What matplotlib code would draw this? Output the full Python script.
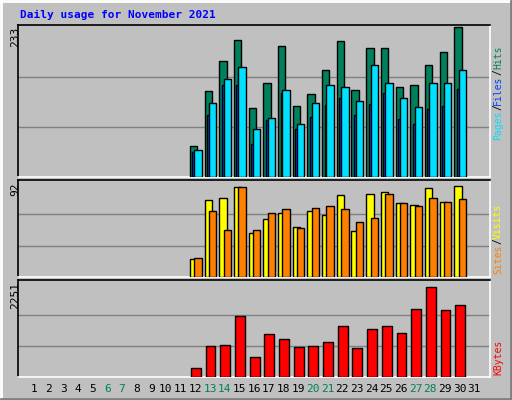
import numpy as np
import matplotlib.pyplot as plt

days = list(range(1, 32))
active = list(range(12, 31))
hits = [48, 133, 180, 212, 107, 146, 203, 110, 128, 166, 211, 134, 199, 199, 139, 142, 174, 193, 233]
files = [39, 96, 143, 143, 51, 88, 130, 74, 93, 111, 123, 96, 113, 130, 90, 82, 105, 110, 137]
pages = [42, 114, 151, 171, 74, 91, 134, 82, 114, 142, 140, 117, 174, 146, 122, 108, 145, 146, 166]
visits = [18, 75, 77, 88, 43, 57, 63, 49, 64, 61, 80, 45, 81, 83, 72, 70, 87, 73, 89]
sites = [19, 64, 46, 88, 46, 63, 66, 48, 67, 69, 66, 54, 58, 81, 72, 69, 77, 73, 76]
kbytes = [221, 742, 766, 1477, 482, 1027, 908, 719, 742, 837, 1240, 695, 1169, 1240, 1051, 1643, 2165, 1620, 1738]
weekend = [6, 7, 13, 14, 20, 21, 27, 28]

W, H = 512, 400
fig = plt.figure(figsize=(W / 100, H / 100), dpi=100)
fig.patch.set_facecolor('#C0C0C0')
mono = 'DejaVu Sans Mono'

# bevel frame
fa = fig.add_axes([0, 0, 1, 1]); fa.set_xlim(0, W); fa.set_ylim(H, 0); fa.axis('off')
fa.plot([1, W - 1], [1, 1], color='white', lw=2); fa.plot([1, 1], [1, H - 1], color='white', lw=2)
fa.plot([1, W - 1], [H - 1, H - 1], color='#808080', lw=2); fa.plot([W - 1, W - 1], [1, H - 1], color='#808080', lw=2)

def panel(y0, y1):
    ax = fig.add_axes([18 / W, 1 - y1 / H, 472 / W, (y1 - y0) / H])
    ax.set_facecolor('#C0C0C0')
    ax.set_xlim(-0.07, 32.06)
    ax.set_xticks([]); ax.set_yticks([])
    for s in ['top', 'left']:
        ax.spines[s].set_color('black')
    for s in ['bottom', 'right']:
        ax.spines[s].set_color('white')
    for s in ax.spines.values():
        s.set_linewidth(1.2)
    return ax

def bars(ax, vals, off, w, color):
    ax.bar(np.array(active) + off, vals, width=w, align='edge', color=color,
           edgecolor='black', linewidth=1, zorder=3)

a1 = panel(25, 177); a1.set_ylim(0, 233 * 1.01)
for f in (1 / 3, 2 / 3):
    a1.axhline(233 * f, color='#808080', lw=1, zorder=1)
bars(a1, hits, -0.37, 0.5, '#00805C')
bars(a1, files, -0.2, 0.4, '#0040FF')
bars(a1, pages, -0.07, 0.5, '#00E0FF')

a2 = panel(180, 277); a2.set_ylim(0, 92 * 1.03)
for f in (1 / 3, 2 / 3):
    a2.axhline(92 * f, color='#808080', lw=1, zorder=1)
bars(a2, visits, -0.37, 0.5, '#FFFF00')
bars(a2, sites, -0.07, 0.5, '#FF8000')

a3 = panel(280, 377); a3.set_ylim(0, 2251 * 1.04)
for f in (1 / 3, 2 / 3):
    a3.axhline(2251 * f, color='#808080', lw=1, zorder=1)
bars(a3, kbytes, -0.3, 0.67, '#FF0000')

fig.text(20 / W, 1 - 15 / H, 'Daily usage for November 2021', color='#0000FF',
         family=mono, weight='bold', fontsize=8, va='center')
for y, t in [(25, '233'), (180, '92'), (280, '2251')]:
    fig.text(15 / W, 1 - (y + 2) / H, t, rotation=90, ha='center', va='top', fontsize=8, family=mono)

def vlabel(ybot, parts):
    y = ybot
    for txt, col in parts:
        fig.text(498 / W, 1 - y / H, txt, rotation=90, ha='center', va='bottom',
                 color=col, fontsize=7, family=mono)
        y -= len(txt) * 5.9
vlabel(140, [('Pages', '#00E0FF'), ('/', 'black'), ('Files', '#0040FF'), ('/', 'black'), ('Hits', '#00805C')])
vlabel(274, [('Sites', '#FF8000'), ('/', 'black'), ('Visits', '#FFFF00')])
vlabel(375, [('KBytes', '#FF0000')])

for d in days:
    x = 18 + (d + 0.07) / 32.13 * 472
    fig.text(x / W, 1 - 389 / H, str(d), ha='center', va='center', fontsize=8, family=mono,
             color='#00805C' if d in weekend else 'black')

fig.savefig('out.png', dpi=100, facecolor=fig.get_facecolor())
